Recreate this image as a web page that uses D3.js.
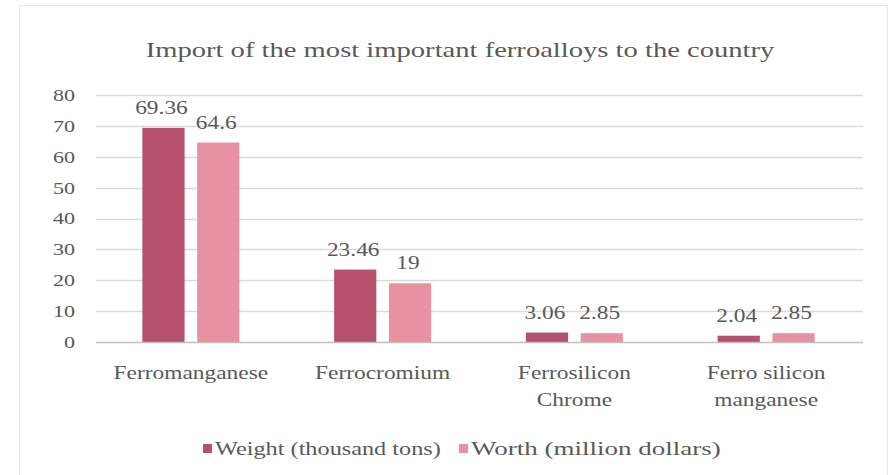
<!DOCTYPE html>
<html>
<head>
<meta charset="utf-8">
<script src="https://cdn.jsdelivr.net/npm/d3@7"></script>
<style>
  html, body { margin: 0; padding: 0; background: #ffffff; }
  svg { display: block; }
  text { font-family: "Liberation Serif", "Times New Roman", serif; fill: #595959; }
</style>
</head>
<body>
<svg id="chart" width="890" height="475"></svg>
<script>
const categories = [["Ferromanganese"], ["Ferrocromium"], ["Ferrosilicon", "Chrome"], ["Ferro silicon", "manganese"]];
const seriesNames = ["Weight (thousand tons)", "Worth (million dollars)"];
const weightValues = [69.36, 23.46, 3.06, 2.04];
const worthValues = [64.6, 19, 2.85, 2.85];
const valueLabels = [["69.36", "23.46", "3.06", "2.04"], ["64.6", "19", "2.85", "2.85"]];
const yTicks = [0, 10, 20, 30, 40, 50, 60, 70, 80];
const title = "Import of the most important ferroalloys to the country";

const colors = ["#b5506f", "#e891a2"];
const SX = 1.3; // horizontal stretch of glyphs seen in the reference

const svg = d3.select("#chart");

// chart frame
svg.append("rect").attr("x", 19.5).attr("y", 5.5).attr("width", 868).attr("height", 480)
  .attr("fill", "#fff").attr("stroke", "#e6e6e6");

const catKeys = categories.map(c => c.join(" "));
const x0 = d3.scaleBand().domain(catKeys).range([95, 862]).paddingInner(0).paddingOuter(0);
const x1 = d3.scaleBand().domain([0, 1]).range([0, 97]).paddingInner(0.23).paddingOuter(0);
const y = d3.scaleLinear().domain([0, 80]).range([342, 95]);

function stretchText(sel, sx) {
  sel.each(function () {
    const t = d3.select(this);
    const xx = +t.attr("x") || 0, yy = +t.attr("y") || 0;
    t.attr("x", 0).attr("y", 0).attr("transform", `translate(${xx},${yy}) scale(${sx},1)`);
  });
}

// title
svg.append("text").attr("x", 460).attr("y", 57).attr("text-anchor", "middle")
  .attr("font-size", 22).text(title).call(stretchText, SX);

// gridlines
svg.append("g").selectAll("line").data(yTicks.filter(d => d > 0)).join("line")
  .attr("x1", 96).attr("x2", 863).attr("y1", d => Math.round(y(d)) + 0.5).attr("y2", d => Math.round(y(d)) + 0.5)
  .attr("stroke", "#d9d9d9").attr("stroke-width", 1.3);

// y axis labels via d3 axis
const yAxis = svg.append("g").attr("transform", "translate(96,0)")
  .call(d3.axisLeft(y).tickValues(yTicks).tickSize(0).tickPadding(16).tickFormat(d3.format("d")));
yAxis.select(".domain").remove();
yAxis.selectAll("text").attr("font-size", 17).attr("font-family", null).attr("fill", "#595959")
  .each(function () {
    const t = d3.select(this);
    t.attr("transform", `translate(-21,0) scale(${SX},1)`).attr("x", 0);
  });

// bars
const data = catKeys.map((k, i) => ({ key: k, vals: [weightValues[i], worthValues[i]], labels: [valueLabels[0][i], valueLabels[1][i]] }));
const groups = svg.append("g").selectAll("g").data(data).join("g")
  .attr("transform", d => `translate(${x0(d.key) + (x0.bandwidth() - 97) / 2},0)`);

groups.selectAll("rect").data(d => d.vals.map((v, s) => ({ v, s }))).join("rect")
  .attr("x", d => x1(d.s)).attr("width", x1.bandwidth())
  .attr("y", d => y(d.v)).attr("height", d => y(0) - y(d.v))
  .attr("fill", d => colors[d.s]);

groups.selectAll("text.val").data(d => d.vals.map((v, s) => ({ v, s, label: d.labels[s] }))).join("text")
  .attr("class", "val")
  .attr("x", d => x1(d.s) + x1.bandwidth() / 2 - 2).attr("y", d => y(d.v) - 14)
  .attr("text-anchor", "middle").attr("font-size", 18)
  .text(d => d.label).call(stretchText, SX);

// x axis baseline
svg.append("line").attr("x1", 96).attr("x2", 863).attr("y1", 342.5).attr("y2", 342.5)
  .attr("stroke", "#bfbfbf").attr("stroke-width", 1.3);

// category labels via d3 axis
const xAxis = svg.append("g").attr("transform", "translate(0,342)")
  .call(d3.axisBottom(x0).tickSize(0).tickFormat(""));
xAxis.select(".domain").remove();
xAxis.selectAll(".tick").each(function (d, i) {
  const g = d3.select(this);
  g.select("text").remove();
  categories[i].forEach((line, j) => {
    g.append("text").attr("x", 0).attr("y", 37 + j * 27).attr("text-anchor", "middle")
      .attr("font-size", 18).text(line).call(stretchText, SX);
  });
});

// legend
const legendItems = [{ name: seriesNames[0], sx: 203, tx: 215, w: 226 }, { name: seriesNames[1], sx: 459, tx: 471, w: 250 }];
const lg = svg.append("g");
legendItems.forEach((it, i) => {
  lg.append("rect").attr("x", it.sx).attr("y", 444).attr("width", 9).attr("height", 9).attr("fill", colors[i]);
  const t = lg.append("text").attr("x", it.tx).attr("y", 455).attr("font-size", 18).text(it.name);
  const natural = t.node().getComputedTextLength() || it.w / 1.3;
  t.call(stretchText, it.w / natural);
});
</script>
</body>
</html>
